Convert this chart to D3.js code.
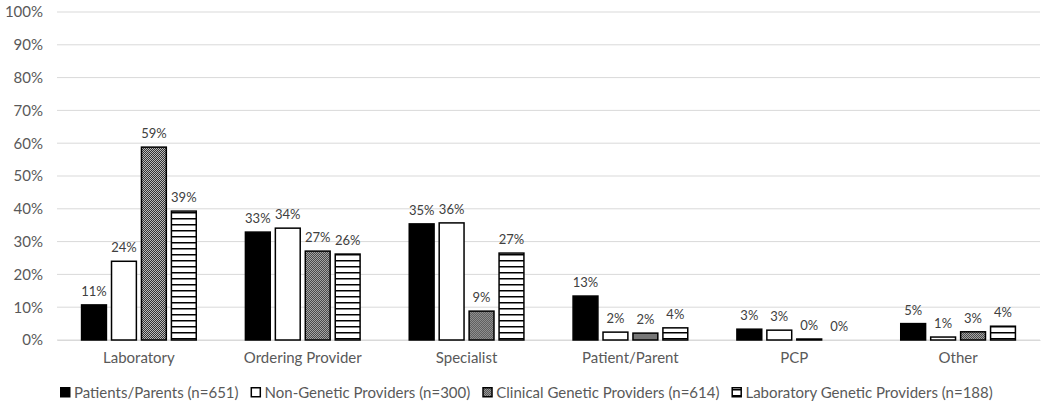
<!DOCTYPE html>
<html><head><meta charset="utf-8">
<script src="https://cdn.jsdelivr.net/npm/d3@7"></script>
<style>body{margin:0;background:#fff}svg{display:block}text{font-family:Lato,"Open Sans",sans-serif}</style>
</head><body><svg id="c" width="1050" height="410"></svg>
<script>
const categories = ["Laboratory","Ordering Provider","Specialist","Patient/Parent","PCP","Other"];
const seriesNames = ["Patients/Parents (n=651)","Non-Genetic Providers (n=300)","Clinical Genetic Providers (n=614)","Laboratory Genetic Providers (n=188)"];
const patientsParents = [10.7, 32.9, 35.4, 13.4, 3.3, 5.0];
const nonGenetic = [24.0, 34.1, 35.7, 2.4, 3.0, 0.9];
const clinicalGenetic = [58.8, 27.1, 8.8, 2.1, 0.3, 2.5];
const labGenetic = [39.3, 26.2, 26.5, 3.7, 0.0, 4.2];
const yTicks = [0,10,20,30,40,50,60,70,80,90,100];

const seriesValues = [patientsParents, nonGenetic, clinicalGenetic, labGenetic];
const fills = ["#000","#fff","url(#checker)","url(#hstripe)"];

const svg = d3.select("#c");
const defs = svg.append("defs");
const chk = defs.append("pattern").attr("id","checker").attr("patternUnits","userSpaceOnUse").attr("width",2).attr("height",2);
chk.append("rect").attr("width",2).attr("height",2).attr("fill","#bbb").attr("shape-rendering","crispEdges");
chk.append("rect").attr("x",0).attr("y",0).attr("width",1).attr("height",1).attr("fill","#333").attr("shape-rendering","crispEdges");
chk.append("rect").attr("x",1).attr("y",1).attr("width",1).attr("height",1).attr("fill","#333").attr("shape-rendering","crispEdges");
const hs = defs.append("pattern").attr("id","hstripe").attr("patternUnits","userSpaceOnUse").attr("width",6).attr("height",6);
hs.append("rect").attr("width",6).attr("height",6).attr("fill","#fff");
hs.append("rect").attr("x",0).attr("y",2).attr("width",6).attr("height",1.5).attr("fill","#000");

const mLeft = 57, mRight = 1040, mTop = 12, mBottom = 340;
const x0 = d3.scaleBand().domain(categories).range([mLeft,mRight]);
const bw = x0.bandwidth();
const x1 = d3.scaleBand().domain(d3.range(4)).range([bw*0.15, bw*0.85]).paddingInner(0.17);
const y = d3.scaleLinear().domain([0,100]).range([mBottom, mTop]);

// gridlines
svg.append("g").selectAll("line").data(yTicks).join("line")
  .attr("x1",mLeft).attr("x2",mRight).attr("y1",d=>y(d)).attr("y2",d=>y(d))
  .attr("stroke","#d9d9d9").attr("stroke-width",1);

// y axis labels
const yAxis = d3.axisLeft(y).tickValues(yTicks).tickFormat(d=>d+"%").tickSize(0).tickPadding(14);
const ga = svg.append("g").attr("transform",`translate(${mLeft},0)`).call(yAxis);
ga.select(".domain").remove();
ga.selectAll("text").attr("font-size",15).attr("fill","#595959").style("font-family","Lato,'Open Sans',sans-serif");

// x axis labels
const xAxis = d3.axisBottom(x0).tickSize(0).tickPadding(12);
const gx = svg.append("g").attr("transform",`translate(0,${mBottom})`).call(xAxis);
gx.select(".domain").attr("stroke","#d9d9d9");
gx.selectAll("text").attr("font-size",15).attr("fill","#595959").style("font-family","Lato,'Open Sans',sans-serif");

// bars
const groups = svg.append("g").selectAll("g").data(categories).join("g")
  .attr("transform",d=>`translate(${x0(d)},0)`);
groups.each(function(cat, ci){
  const g = d3.select(this);
  const data = seriesValues.map((arr,si)=>({si, v:arr[ci]}));
  g.selectAll("rect").data(data.filter(d=>d.v>0)).join("rect")
    .attr("x",d=>x1(d.si)).attr("width",x1.bandwidth())
    .attr("y",d=>y(d.v)).attr("height",d=>mBottom-y(d.v))
    .attr("fill",d=>fills[d.si]).attr("stroke","#000").attr("stroke-width",1.5);
  g.selectAll("text").data(data).join("text")
    .attr("x",d=>x1(d.si)+x1.bandwidth()/2).attr("y",d=>y(d.v)-9)
    .attr("text-anchor","middle").attr("font-size",13).attr("fill","#404040")
    .text(d=>Math.round(d.v)+"%");
});

// legend
const leg = svg.append("g").attr("transform","translate(60,393)");
let lx = 0;
seriesNames.forEach((name,i)=>{
  const it = leg.append("g").attr("transform",`translate(${lx},0)`);
  it.append("rect").attr("x",0.75).attr("y",-5.25).attr("width",9).attr("height",9)
    .attr("fill",fills[i]).attr("stroke","#000").attr("stroke-width",1.5);
  const t = it.append("text").attr("x",14).attr("y",0).attr("dy","0.35em")
    .attr("font-size",15).attr("fill","#595959").text(name);
  lx += 14 + t.node().getComputedTextLength() + 12;
});
</script></body></html>
